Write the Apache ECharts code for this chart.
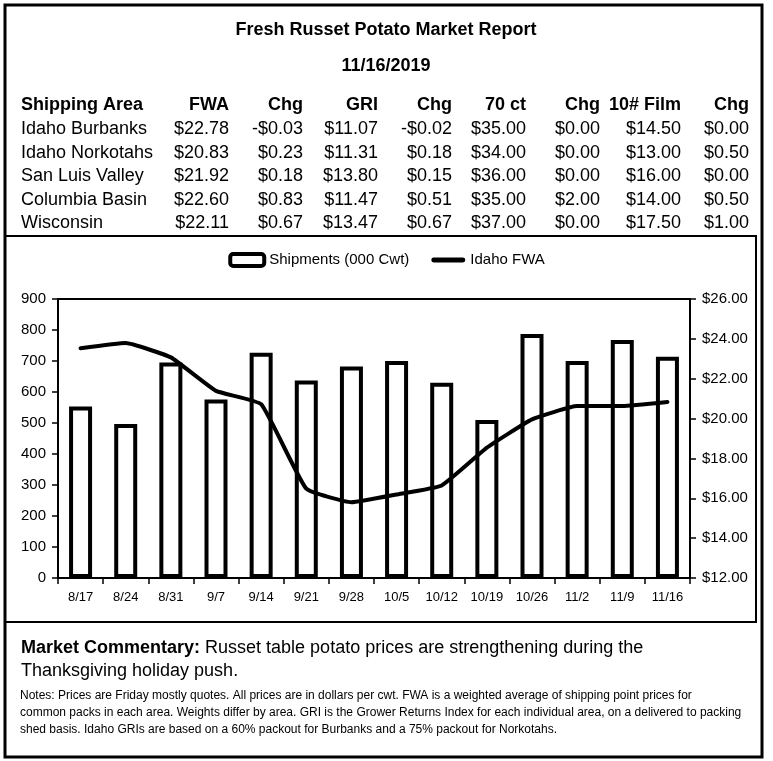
<!DOCTYPE html>
<html>
<head>
<meta charset="utf-8">
<script src="https://cdn.jsdelivr.net/npm/echarts@6/dist/echarts.min.js"></script>
<style>
html,body{margin:0;padding:0;background:#fff;}
#chart{width:773px;height:761px;}
</style>
</head>
<body>
<div id="chart"></div>
<script>
// ---- Data ----
var reportTitle = 'Fresh Russet Potato Market Report';
var reportDate = '11/16/2019';
var tableHeaders = ['Shipping Area', 'FWA', 'Chg', 'GRI', 'Chg', '70 ct', 'Chg', '10# Film', 'Chg'];
var areas = ['Idaho Burbanks', 'Idaho Norkotahs', 'San Luis Valley', 'Columbia Basin', 'Wisconsin'];
var fwa = ['$22.78', '$20.83', '$21.92', '$22.60', '$22.11'];
var fwaChg = ['-$0.03', '$0.23', '$0.18', '$0.83', '$0.67'];
var gri = ['$11.07', '$11.31', '$13.80', '$11.47', '$13.47'];
var griChg = ['-$0.02', '$0.18', '$0.15', '$0.51', '$0.67'];
var ct70 = ['$35.00', '$34.00', '$36.00', '$35.00', '$37.00'];
var ct70Chg = ['$0.00', '$0.00', '$0.00', '$2.00', '$0.00'];
var film10 = ['$14.50', '$13.00', '$16.00', '$14.00', '$17.50'];
var film10Chg = ['$0.00', '$0.50', '$0.00', '$0.50', '$1.00'];

var weeks = ['8/17', '8/24', '8/31', '9/7', '9/14', '9/21', '9/28', '10/5', '10/12', '10/19', '10/26', '11/2', '11/9', '11/16'];
var shipments = [553, 497, 695, 576, 727, 637, 682, 700, 630, 510, 787, 700, 768, 714];
var idahoFWA = [23.53, 23.79, 23.07, 21.39, 20.72, 16.48, 15.80, 16.19, 16.64, 18.54, 19.96, 20.63, 20.63, 20.83];

var commentaryBold = 'Market Commentary:';
var commentaryLine1 = ' Russet table potato prices are strengthening during the';
var commentaryLine2 = 'Thanksgiving holiday push.';
var notesLines = [
  'Notes: Prices are Friday mostly quotes. All prices are in dollars per cwt. FWA is a weighted average of shipping point prices for',
  'common packs in each area. Weights differ by area. GRI is the Grower Returns Index for each individual area, on a delivered to packing',
  'shed basis. Idaho GRIs are based on a 60% packout for Burbanks and a 75% packout for Norkotahs.'
];

// ---- Layout ----
var FONT = '"Liberation Sans", Arial, sans-serif';
var colRight = [null, 229, 303, 378, 452, 526, 600, 681, 749];
var colLeft = 21;
var headerY = 105;
var rowYs = [129, 153, 176, 200, 223];

var graphics = [];
graphics.push({type:'rect', shape:{x:5, y:5, width:757, height:752}, style:{fill:'none', stroke:'#000', lineWidth:3}, z:100});
graphics.push({type:'rect', shape:{x:5, y:236, width:751, height:386}, style:{fill:'none', stroke:'#000', lineWidth:2}, z:100});

function txt(x, y, text, opts) {
  opts = opts || {};
  graphics.push({
    type:'text', x:x, y:y, z:100,
    style:{
      text:text, fill:'#000', font: (opts.bold ? 'bold ' : '') + (opts.size || 18) + 'px ' + FONT,
      textAlign: opts.align || 'left', textVerticalAlign:'middle'
    }
  });
}
txt(386, 30, reportTitle, {bold:true, align:'center'});
txt(386, 66, reportDate, {bold:true, align:'center'});

tableHeaders.forEach(function(h, i){
  if (i === 0) txt(colLeft, headerY, h, {bold:true});
  else txt(colRight[i], headerY, h, {bold:true, align:'right'});
});
var cols = [areas, fwa, fwaChg, gri, griChg, ct70, ct70Chg, film10, film10Chg];
areas.forEach(function(a, r){
  cols.forEach(function(col, i){
    if (i === 0) txt(colLeft, rowYs[r], col[r]);
    else txt(colRight[i], rowYs[r], col[r], {align:'right'});
  });
});

graphics.push({
  type:'text', x:21, y:648, z:100,
  style:{
    text:'{b|' + commentaryBold + '}{n|' + commentaryLine1 + '}',
    textVerticalAlign:'middle',
    rich:{
      b:{font:'bold 18px ' + FONT, fill:'#000'},
      n:{font:'18px ' + FONT, fill:'#000'}
    }
  }
});
txt(21, 671, commentaryLine2);
notesLines.forEach(function(l, i){ txt(20, 696 + i*17, l, {size:12}); });

var chart = echarts.init(document.getElementById('chart'), null, {renderer:'canvas'});
chart.setOption({
  animation:false,
  backgroundColor:'#fff',
  textStyle:{fontFamily:FONT, color:'#000'},
  graphic:graphics,
  legend:{
    top:247, left:'center',
    itemGap:22, itemWidth:34, itemHeight:12,
    textStyle:{fontSize:15, color:'#000', fontFamily:FONT},
    data:[
      {name:'Shipments (000 Cwt)', itemStyle:{color:'#fff', borderColor:'#000', borderWidth:4}},
      {name:'Idaho FWA', icon:'path://M2,0 L32,0 A2.5,2.5 0 0 1 32,5 L2,5 A2.5,2.5 0 0 1 2,0 Z', itemStyle:{color:'#000', borderWidth:0}}
    ]
  },
  grid:{left:58, right:83, top:299, bottom:183, show:true, borderColor:'#000', borderWidth:2, backgroundColor:'transparent'},
  xAxis:{
    type:'category', data:weeks, boundaryGap:true,
    axisLine:{lineStyle:{color:'#000', width:2}},
    axisTick:{show:true, alignWithLabel:false, length:6, lineStyle:{color:'#000', width:1.5}},
    axisLabel:{color:'#000', fontSize:13, margin:13, fontFamily:FONT, interval:0}
  },
  yAxis:[{
    type:'value', min:0, max:900, interval:100, position:'left',
    axisLine:{show:true, lineStyle:{color:'#000', width:2}},
    axisTick:{show:true, length:6, lineStyle:{color:'#000', width:1.5}},
    splitLine:{show:false},
    axisLabel:{color:'#000', fontSize:15, margin:12, fontFamily:FONT}
  },{
    type:'value', min:12, max:26, interval:2, position:'right',
    axisLine:{show:true, lineStyle:{color:'#000', width:2}},
    axisTick:{show:true, length:6, lineStyle:{color:'#000', width:1.5}},
    splitLine:{show:false},
    axisLabel:{color:'#000', fontSize:15, margin:12, fontFamily:FONT, formatter:function(v){return '$' + v.toFixed(2);}}
  }],
  series:[{
    name:'Shipments (000 Cwt)', type:'bar', data:shipments, yAxisIndex:0,
    barWidth:23,
    itemStyle:{color:'#fff', borderColor:'#000', borderWidth:4}
  },{
    name:'Idaho FWA', type:'line', data:idahoFWA, yAxisIndex:1,
    showSymbol:false, symbol:'none', smooth:0.12,
    lineStyle:{color:'#000', width:4, cap:'round', join:'round'},
    itemStyle:{color:'#000'},
    z:5
  }]
});
</script>
</body>
</html>
